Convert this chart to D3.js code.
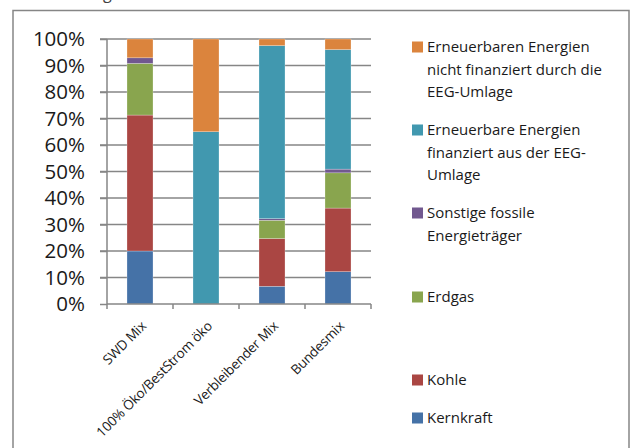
<!DOCTYPE html>
<html>
<head>
    <meta charset="utf-8" />
    <title>Strommix</title>
    <script src="https://d3js.org/d3.v7.min.js" charset="utf-8"></script>
    <style>
        body { margin: 0; background: #fff; }
        text { font-family: "Open Sans", "Noto Sans", sans-serif; }
    </style>
</head>
<body>
    <script>
        // Categories and series values (percent), bottom to top
        const categories = ["SWD Mix", "100% Öko/BestStrom öko", "Verbleibender Mix", "Bundesmix"];
        const kernkraft = [20.0, 0, 6.7, 12.2];
        const kohle = [51.3, 0, 18.0, 24.0];
        const erdgas = [19.5, 0, 6.9, 13.3];
        const sonstige = [2.1, 0, 0.6, 1.4];
        const eegFinanziert = [0, 65.0, 65.3, 45.1];
        const eegNicht = [7.1, 35.0, 2.5, 4.0];
        const yTicks = [0, 10, 20, 30, 40, 50, 60, 70, 80, 90, 100];

        const series = [
            { key: "kern", name: ["Kernkraft"], values: kernkraft, color: "#4572A7" },
            { key: "kohle", name: ["Kohle"], values: kohle, color: "#AA4643" },
            { key: "erdgas", name: ["Erdgas"], values: erdgas, color: "#89A54E" },
            { key: "sonst", name: ["Sonstige fossile", "Energieträger"], values: sonstige, color: "#71588F" },
            { key: "eeg", name: ["Erneuerbare Energien", "finanziert aus der EEG-", "Umlage"], values: eegFinanziert, color: "#4198AF" },
            { key: "neeg", name: ["Erneuerbaren Energien", "nicht finanziert durch die", "EEG-Umlage"], values: eegNicht, color: "#DB843D" }
        ];

        const width = 632, height = 448;
        const plot = { left: 107, right: 371, top: 39, bottom: 304 };

        const svg = d3.select("body").append("svg")
            .attr("width", width)
            .attr("height", height);

        // Outer chart frame (bottom runs off the picture)
        svg.append("rect")
            .attr("x", 13).attr("y", 10.5)
            .attr("width", 616).attr("height", 460)
            .attr("fill", "none")
            .attr("stroke", "#868686")
            .attr("stroke-width", 1.5);

        // cut-off title descender above frame
        svg.append("text")
            .attr("x", 103).attr("y", -1)
            .attr("font-size", 16)
            .attr("fill", "#404040")
            .text("g");

        const rows = categories.map((c, i) => {
            const r = { cat: c };
            series.forEach(s => r[s.key] = s.values[i]);
            return r;
        });

        const stack = d3.stack().keys(series.map(s => s.key));
        const stacked = stack(rows);

        const x = d3.scaleBand()
            .domain(categories)
            .range([plot.left, plot.right])
            .paddingInner(0.606)
            .paddingOuter(0.303);

        const y = d3.scaleLinear()
            .domain([0, 100])
            .range([plot.bottom, plot.top]);

        // Gridlines
        svg.append("g")
            .selectAll("line")
            .data(yTicks.filter(t => t > 0))
            .enter()
            .append("line")
            .attr("x1", plot.left - 7)
            .attr("x2", plot.right)
            .attr("y1", d => y(d))
            .attr("y2", d => y(d))
            .attr("stroke", "#868686")
            .attr("stroke-width", 1.5);

        // Y axis
        const yAxis = svg.append("g")
            .attr("transform", `translate(${plot.left},0)`)
            .call(d3.axisLeft(y).tickValues(yTicks).tickFormat(d => d + "%").tickSize(7).tickPadding(15));
        yAxis.select(".domain").attr("stroke", "#868686").attr("stroke-width", 1.5).attr("d", `M0,${plot.bottom}V${plot.top}`);
        yAxis.selectAll(".tick line").attr("stroke", "#868686").attr("stroke-width", 1.5);
        yAxis.selectAll(".tick text")
            .attr("font-size", 20.5)
            .attr("fill", "#1a1a1a")
            .attr("font-family", "'Open Sans', sans-serif");

        // Bars
        svg.append("g")
            .selectAll("g")
            .data(stacked)
            .enter()
            .append("g")
            .attr("fill", (d, i) => series[i].color)
            .selectAll("rect")
            .data(d => d)
            .enter()
            .append("rect")
            .attr("x", d => x(d.data.cat))
            .attr("y", d => y(d[1]))
            .attr("width", x.bandwidth())
            .attr("height", d => y(d[0]) - y(d[1]))
            .attr("stroke", d => (d[1] - d[0]) > 0 ? "rgba(255,255,255,0.5)" : "none")
            .attr("stroke-width", 0.5);

        // X axis
        const step = x.step();
        const xAxis = svg.append("g");
        xAxis.append("line")
            .attr("x1", plot.left).attr("x2", plot.right)
            .attr("y1", plot.bottom).attr("y2", plot.bottom)
            .attr("stroke", "#868686").attr("stroke-width", 1.5);
        xAxis.selectAll(".xtick")
            .data(d3.range(categories.length + 1))
            .enter()
            .append("line")
            .attr("class", "xtick")
            .attr("x1", i => plot.left + i * step)
            .attr("x2", i => plot.left + i * step)
            .attr("y1", plot.bottom)
            .attr("y2", plot.bottom + 5)
            .attr("stroke", "#868686").attr("stroke-width", 1.5);

        xAxis.selectAll(".xlabel")
            .data(categories)
            .enter()
            .append("text")
            .attr("class", "xlabel")
            .attr("transform", d => `translate(${x(d) + x.bandwidth() / 2 + 7},${plot.bottom + 23}) rotate(-45)`)
            .attr("text-anchor", "end")
            .attr("font-size", 13.5)
            .attr("letter-spacing", -0.2)
            .attr("fill", "#1a1a1a")
            .text(d => d);

        // Legend (top to bottom, reverse of stack order)
        const legendItems = series.slice().reverse();
        const legendY = [47, 130, 213, 297, 380, 418];
        const lineH = 22.5;
        const legend = svg.append("g");
        legendItems.forEach((s, i) => {
            const g = legend.append("g").attr("transform", `translate(412,${legendY[i]})`);
            g.append("rect")
                .attr("x", 0).attr("y", -5.5)
                .attr("width", 11).attr("height", 11)
                .attr("fill", s.color);
            g.append("text")
                .attr("x", 15)
                .attr("font-size", 15)
                .attr("fill", "#1a1a1a")
                .selectAll("tspan")
                .data(s.name)
                .enter()
                .append("tspan")
                .attr("x", 15)
                .attr("y", (d, j) => j * lineH)
                .attr("dy", "0.35em")
                .text(d => d);
        });
    </script>
</body>
</html>
